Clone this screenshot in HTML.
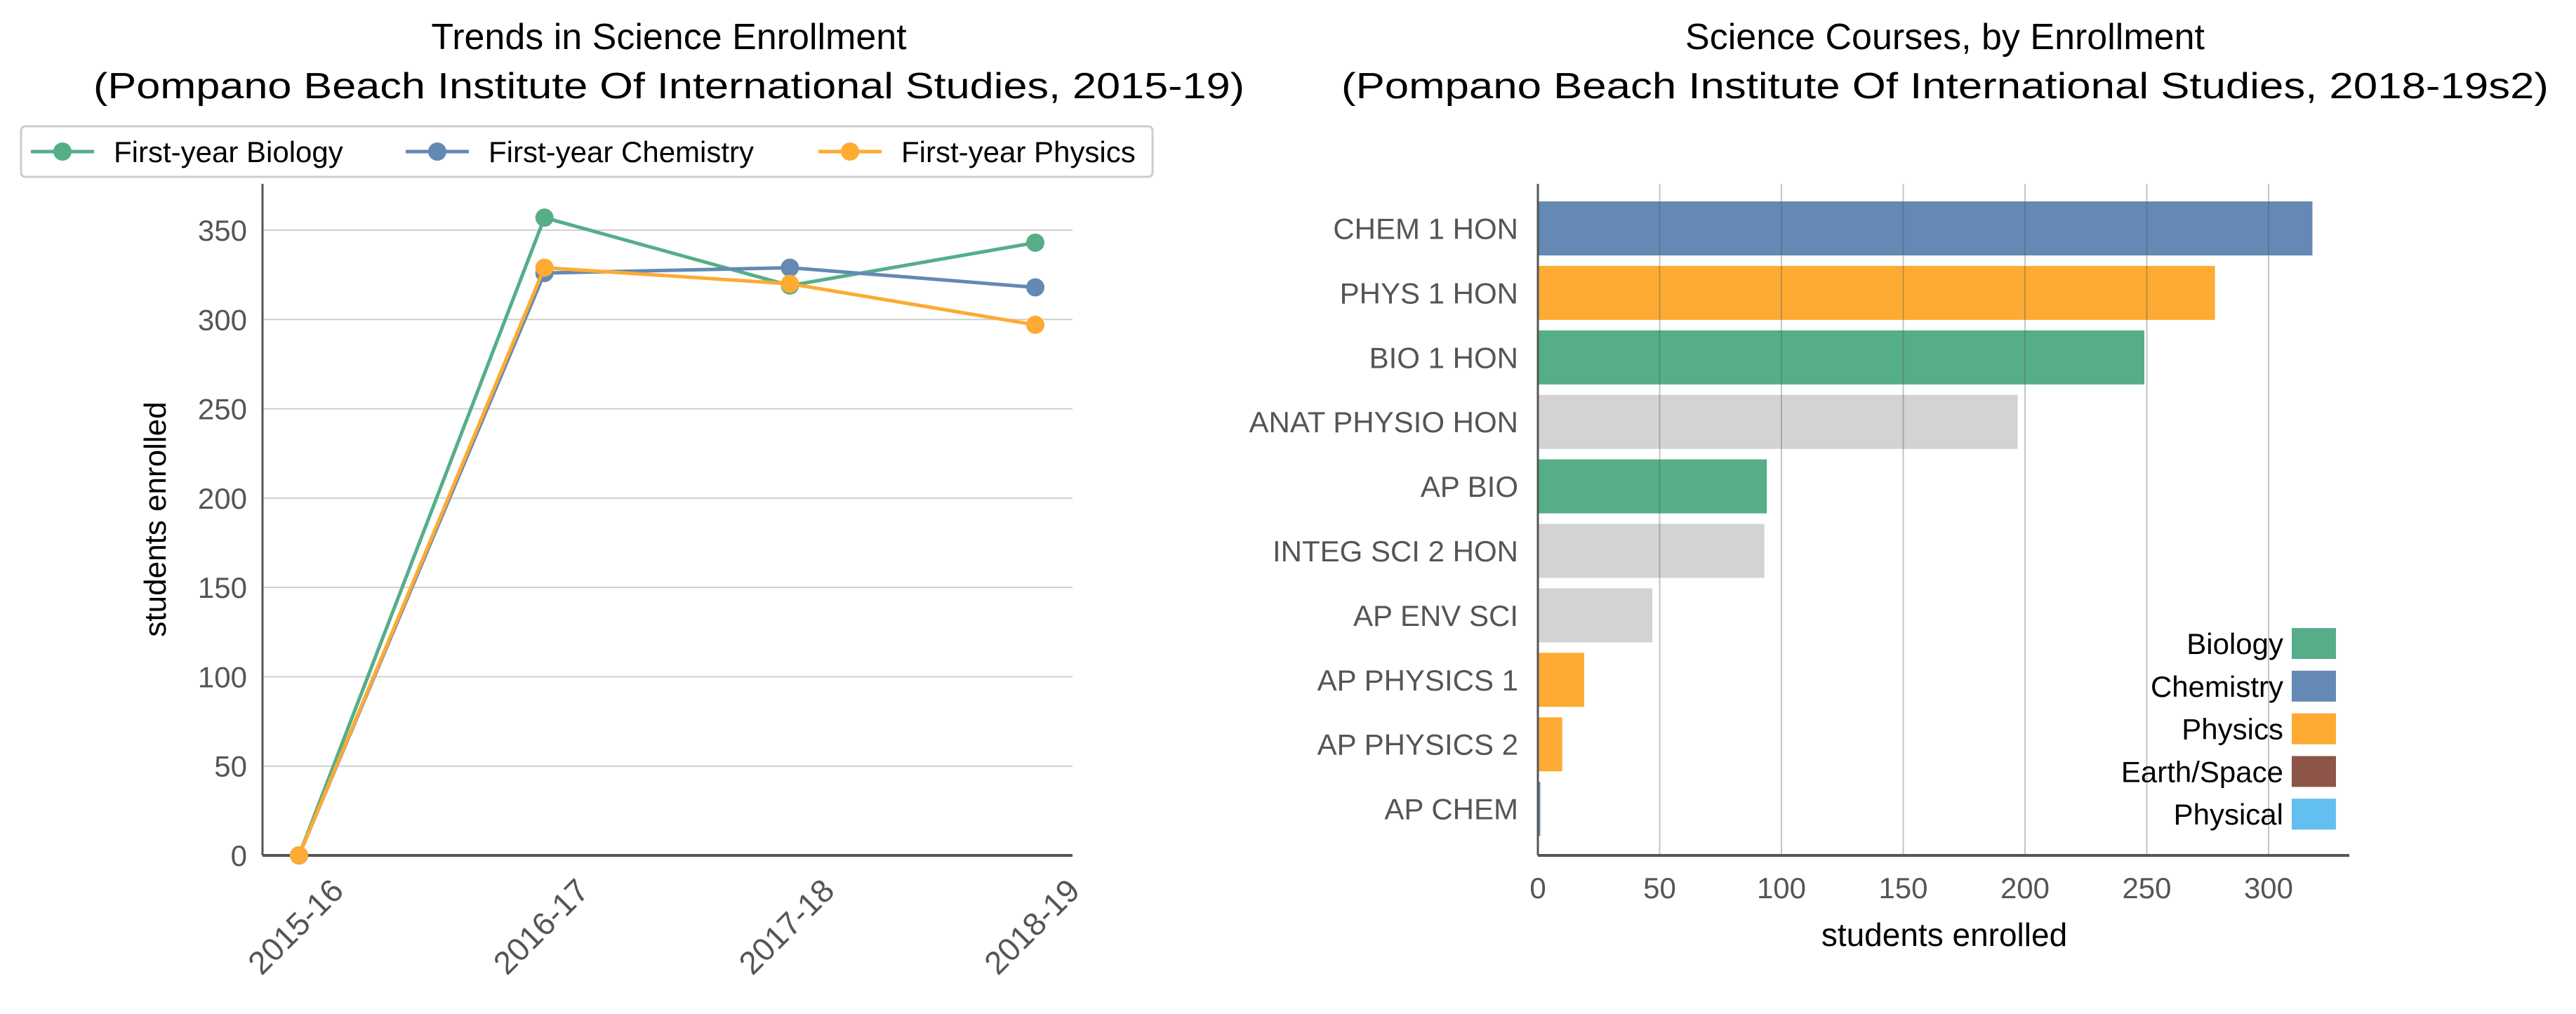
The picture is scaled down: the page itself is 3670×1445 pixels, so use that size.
<!DOCTYPE html>
<html><head><meta charset="utf-8"><style>
html,body{margin:0;padding:0;background:#fff;}
svg{display:block;font-family:"Liberation Sans",sans-serif;}
</style></head><body>
<svg id="chart" width="3670" height="1445" viewBox="0 0 3670 1445" xmlns="http://www.w3.org/2000/svg">
<g id="left"></g>
<g id="right"></g>
</svg>
<script>
const years = ["2015-16","2016-17","2017-18","2018-19"];
const biology = [0,357,319,343];
const chemistry = [0,326,329,318];
const physics = [0,329,320,297];
const yTicks = [0,50,100,150,200,250,300,350];

const courses = ["CHEM 1 HON","PHYS 1 HON","BIO 1 HON","ANAT PHYSIO HON","AP BIO","INTEG SCI 2 HON","AP ENV SCI","AP PHYSICS 1","AP PHYSICS 2","AP CHEM"];
const enrollment = [318,278,249,197,94,93,47,19,10,1];
const courseSubject = ["Chemistry","Physics","Biology","Other","Biology","Other","Other","Physics","Physics","Chemistry"];
const xTicks = [0,50,100,150,200,250,300];
const legendSubjects = ["Biology","Chemistry","Physics","Earth/Space","Physical"];

const colors = {Biology:"#55ae88",Chemistry:"#6389b4",Physics:"#fdab33","Earth/Space":"#8c5548",Physical:"#63bfef",Other:"#d3d3d3"};
const NS="http://www.w3.org/2000/svg";
function mk(parent,tag,attrs,text){const e=document.createElementNS(NS,tag);for(const k in attrs)e.setAttribute(k,attrs[k]);if(text!==undefined)e.textContent=text;parent.appendChild(e);return e;}

// ---------- Left chart ----------
const L=document.getElementById('left');
const lx0=374,lx1=1528,ly0=1219,ly1=262;
const yScale=v=>ly0-(v/350)*(ly0-328);
const xPos=i=>426+i*(1475-426)/3;

let t=mk(L,'text',{x:953,y:70,'text-anchor':'middle','font-size':52,fill:'#000'},"Trends in Science Enrollment");

t=mk(L,'text',{x:953,y:140,'text-anchor':'middle','font-size':52,fill:'#000',textLength:1640,lengthAdjust:'spacingAndGlyphs'},"(Pompano Beach Institute Of International Studies, 2015-19)");


yTicks.forEach(v=>{
  const y=yScale(v);
  if(v>0){const g=mk(L,'line',{x1:lx0,x2:lx1,y1:y,y2:y,stroke:'#cfcfcf','stroke-width':2});
  }
  const tx=mk(L,'text',{x:lx0-22,y:y+15,'text-anchor':'end','font-size':42,fill:'#555'},String(v));
  
});
let s=mk(L,'line',{x1:lx0,x2:lx0,y1:ly1,y2:ly0,stroke:'#555','stroke-width':3});

s=mk(L,'line',{x1:lx0,x2:lx1,y1:ly0,y2:ly0,stroke:'#555','stroke-width':4});


years.forEach((yr,i)=>{
  const x=xPos(i)+66,y=1272;
  const tx=mk(L,'text',{x:x,y:y,'text-anchor':'end','font-size':46,fill:'#555',transform:`rotate(-45 ${x} ${y})`},yr);
  
});
t=mk(L,'text',{x:236,y:740,'text-anchor':'middle','font-size':44,fill:'#000',transform:'rotate(-90 236 740)'},"students enrolled");


const series=[["First-year Biology",biology,colors.Biology,'biology'],["First-year Chemistry",chemistry,colors.Chemistry,'chemistry'],["First-year Physics",physics,colors.Physics,'physics']];
series.forEach(([name,vals,col,key])=>{
  const pts=vals.map((v,i)=>xPos(i)+','+yScale(v)).join(' ');
  const pl=mk(L,'polyline',{points:pts,fill:'none',stroke:col,'stroke-width':5});
  
  vals.forEach((v,i)=>{
    const c=mk(L,'circle',{cx:xPos(i),cy:yScale(v),r:13,fill:col});
    
  });
});
// legend
const lg=mk(L,'g',{});

mk(lg,'rect',{x:30,y:180,width:1612,height:72,rx:6,fill:'#fff',stroke:'#ccc','stroke-width':3});
const legX=[44,578,1166];
series.forEach(([name,vals,col,key],i)=>{
  const g=mk(lg,'g',{});
  
  mk(g,'line',{x1:legX[i],x2:legX[i]+90,y1:216,y2:216,stroke:col,'stroke-width':5});
  mk(g,'circle',{cx:legX[i]+45,cy:216,r:13,fill:col});
  mk(g,'text',{x:legX[i]+118,y:231,'font-size':42,fill:'#000'},name);
});

// ---------- Right chart ----------
const R=document.getElementById('right');
const rx0=2191,rx1=3347,ry0=1219,ry1=262;
const xScale=v=>rx0+v*(3232-2191)/300;
const band=91.9,barH=77,barTop0=287;

t=mk(R,'text',{x:2771,y:70,'text-anchor':'middle','font-size':52,fill:'#000'},"Science Courses, by Enrollment");

t=mk(R,'text',{x:2771,y:140,'text-anchor':'middle','font-size':52,fill:'#000',textLength:1720,lengthAdjust:'spacingAndGlyphs'},"(Pompano Beach Institute Of International Studies, 2018-19s2)");


courses.forEach((c,i)=>{
  const y=barTop0+i*band;
  const b=mk(R,'rect',{x:rx0,y:y,width:xScale(enrollment[i])-rx0,height:barH,fill:colors[courseSubject[i]]});
  
  const tx=mk(R,'text',{x:rx0-28,y:y+barH/2+15,'text-anchor':'end','font-size':42,fill:'#555'},c);
  
});
xTicks.forEach(v=>{
  const x=xScale(v);
  if(v>0){const g=mk(R,'line',{x1:x,x2:x,y1:ry1,y2:ry0,stroke:'#555','stroke-opacity':0.35,'stroke-width':2});
  }
  const tx=mk(R,'text',{x:x,y:1280,'text-anchor':'middle','font-size':42,fill:'#555'},String(v));
  
});
s=mk(R,'line',{x1:rx0,x2:rx0,y1:ry1,y2:ry0,stroke:'#555','stroke-width':3});

s=mk(R,'line',{x1:rx0,x2:rx1,y1:ry0,y2:ry0,stroke:'#555','stroke-width':4});

t=mk(R,'text',{x:2770,y:1348,'text-anchor':'middle','font-size':46,fill:'#000'},"students enrolled");


const rl=mk(R,'g',{});

legendSubjects.forEach((sub,i)=>{
  const cy=917+i*60.8;
  const g=mk(rl,'g',{});
  
  mk(g,'rect',{x:3265,y:cy-22,width:63,height:44,fill:colors[sub]});
  mk(g,'text',{x:3253,y:cy+15,'text-anchor':'end','font-size':42,fill:'#000'},sub);
});
</script>
</body></html>
